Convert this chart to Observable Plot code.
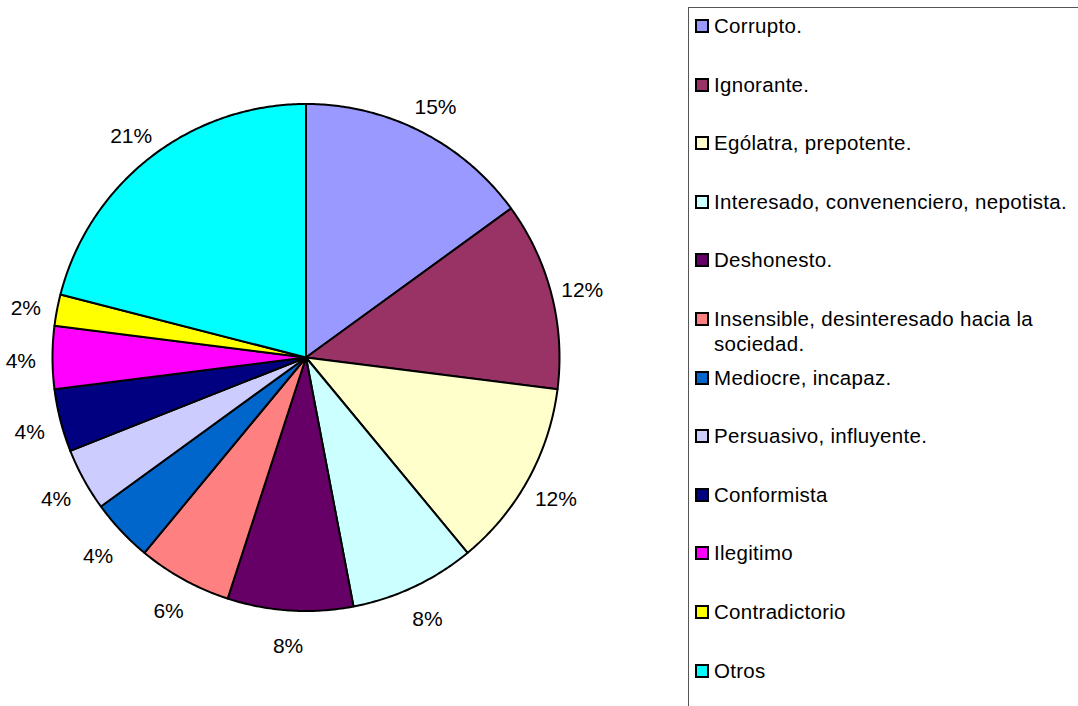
<!DOCTYPE html>
<html>
<head>
<meta charset="utf-8">
<script src="https://cdn.jsdelivr.net/npm/d3@7"></script>
<script src="https://cdn.jsdelivr.net/npm/@observablehq/plot@0.6"></script>
<style>
  html, body { margin: 0; padding: 0; background: #fff; }
  body { width: 1078px; height: 706px; position: relative; overflow: hidden;
         font-family: "Liberation Sans", Arial, sans-serif; }
  #chart { position: absolute; left: 0; top: 0; }
  #legend { position: absolute; left: 688px; top: 7px; width: 420px; height: 740px;
            border: 1.5px solid #555; box-sizing: border-box; padding-top: 6px; }
  .item { display: flex; align-items: flex-start; height: 58.6px; padding-left: 6px; }
  .sw { width: 10px; height: 10px; border: 2px solid #000; flex: none; margin-top: 5px; margin-right: 5px; }
  .lbl { font-size: 20.5px; letter-spacing: 0.3px; line-height: 25px; color: #000; width: 362px; margin-top: -1px; }
</style>
</head>
<body>
<div id="chart"></div>
<div id="legend"></div>
<script>
// Categories, their shares (%) and slice colours
const categories = [
  "Corrupto.",
  "Ignorante.",
  "Ególatra, prepotente.",
  "Interesado, convenenciero, nepotista.",
  "Deshonesto.",
  "Insensible, desinteresado hacia la sociedad.",
  "Mediocre, incapaz.",
  "Persuasivo, influyente.",
  "Conformista",
  "Ilegitimo",
  "Contradictorio",
  "Otros"
];
const shares = [15, 12, 12, 8, 8, 6, 4, 4, 4, 4, 2, 21];
const colors = ["#9999FF", "#993366", "#FFFFCC", "#CCFFFF", "#660066", "#FF8080",
                "#0066CC", "#CCCCFF", "#000080", "#FF00FF", "#FFFF00", "#00FFFF"];

const rows = categories.map((name, i) => ({name, value: shares[i]}));

// Pie angles: start at 12 o'clock, go clockwise, keep the given order
const arcs = d3.pie().sort(null).value(d => d.value)(rows);

// Each slice becomes a closed polygon in unit coordinates (radius 1)
const slicePts = [];
for (const a of arcs) {
  slicePts.push({name: a.data.name, x: 0, y: 0});
  const n = Math.max(2, Math.ceil((a.endAngle - a.startAngle) / 0.01));
  for (let k = 0; k <= n; k++) {
    const t = a.startAngle + (a.endAngle - a.startAngle) * k / n;
    slicePts.push({name: a.data.name, x: Math.sin(t), y: Math.cos(t)});
  }
}

// Percentage labels just outside each slice
const labelR = 1.125;
const labels = arcs.map(a => {
  const m = (a.startAngle + a.endAngle) / 2;
  return {text: a.data.value + "%", x: labelR * Math.sin(m), y: labelR * Math.cos(m)};
});

const cx = 305.5, cy = 357, r = 253.5;

const chart = Plot.plot({
  width: 680,
  height: 706,
  margin: 0,
  x: {domain: [-1, 1], range: [cx - r, cx + r], axis: null},
  y: {domain: [-1, 1], range: [cy + r, cy - r], axis: null},
  color: {domain: categories, range: colors},
  style: {fontFamily: "'Liberation Sans', Arial, sans-serif", background: "white"},
  marks: [
    Plot.line(slicePts, {
      x: "x", y: "y", z: "name", fill: "name",
      stroke: "#000", strokeWidth: 2, strokeLinejoin: "round",
      curve: "linear-closed"
    }),
    Plot.text(labels, {
      x: "x", y: "y", text: "text", dy: 4,
      fontSize: 21, fill: "#000", textAnchor: "middle"
    })
  ]
});
document.getElementById("chart").appendChild(chart);

// Legend box on the right
const legend = document.getElementById("legend");
categories.forEach((name, i) => {
  const item = document.createElement("div");
  item.className = "item";
  const sw = document.createElement("div");
  sw.className = "sw";
  sw.style.background = colors[i];
  const lbl = document.createElement("div");
  lbl.className = "lbl";
  lbl.textContent = name;
  item.appendChild(sw);
  item.appendChild(lbl);
  legend.appendChild(item);
});
</script>
</body>
</html>
